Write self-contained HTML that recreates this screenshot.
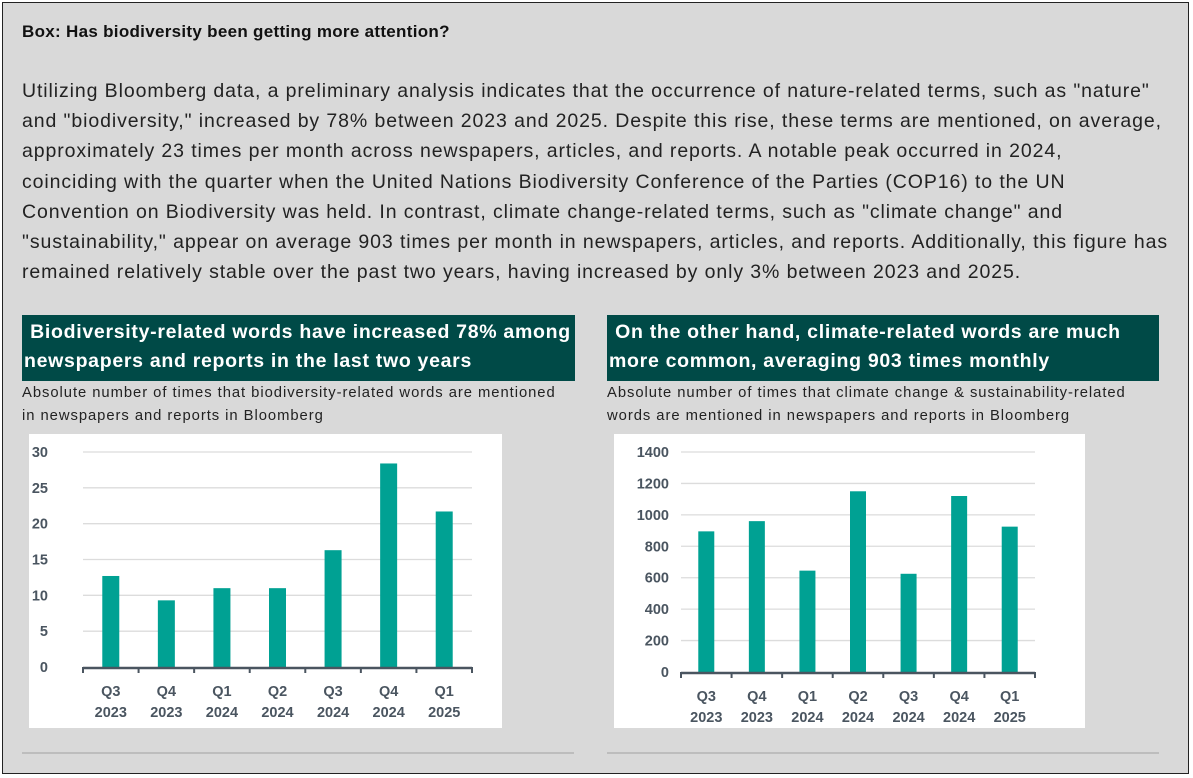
<!DOCTYPE html>
<html><head><meta charset="utf-8"><style>
body{margin:0;width:1193px;height:778px;background:#fff;font-family:"Liberation Sans",sans-serif;overflow:hidden}
#frame{position:absolute;left:2px;top:2px;width:1185px;height:770px;border:1px solid #222;background:#d9d9d9}
.abs{position:absolute;white-space:nowrap}
h1{position:absolute;left:19px;top:19px;margin:0;font-size:17px;font-weight:bold;color:#111;letter-spacing:0.3px}
#para{left:19px;top:73px;font-size:19.5px;line-height:30.2px;color:#222;letter-spacing:0.9px}
.tbox{background:#004a47;color:#fff;font-weight:bold;font-size:19.5px;line-height:29px;padding:3px 2px;box-sizing:border-box;height:66px;top:312px;letter-spacing:0.7px}
.sub{font-size:14.8px;line-height:23px;color:#222;top:379px;letter-spacing:0.95px}
.hr{height:2px;background:#bdbdbd;top:749px}
svg{position:absolute;top:434px;background:#fff}
</style></head><body>
<div id="frame">
<h1>Box: Has biodiversity been getting more attention?</h1>
<div id="para" class="abs">Utilizing Bloomberg data, a preliminary analysis indicates that the occurrence of nature-related terms, such as "nature"<br>and "biodiversity," increased by 78% between 2023 and 2025. Despite this rise, these terms are mentioned, on average,<br>approximately 23 times per month across newspapers, articles, and reports. A notable peak occurred in 2024,<br>coinciding with the quarter when the United Nations Biodiversity Conference of the Parties (COP16) to the UN<br>Convention on Biodiversity was held. In contrast, climate change-related terms, such as "climate change" and<br>"sustainability," appear on average 903 times per month in newspapers, articles, and reports. Additionally, this figure has<br>remained relatively stable over the past two years, having increased by only 3% between 2023 and 2025.</div>
<div class="abs tbox" style="left:19px;width:553px">&nbsp;Biodiversity-related words have increased 78% among<br>newspapers and reports in the last two years</div>
<div class="abs tbox" style="left:604px;width:552px">&nbsp;On the other hand, climate-related words are much<br>more common, averaging 903 times monthly</div>
<div class="abs sub" style="left:19px">Absolute number of times that biodiversity-related words are mentioned<br>in newspapers and reports in Bloomberg</div>
<div class="abs sub" style="left:604px">Absolute number of times that climate change &amp; sustainability-related<br>words are mentioned in newspapers and reports in Bloomberg</div>
<div class="abs hr" style="left:19px;width:552px"></div>
<div class="abs hr" style="left:604px;width:552px"></div>
</div>
<svg id="c1" style="left:29px" width="473" height="294"></svg>
<svg id="c2" style="left:614px" width="471" height="294"></svg>
<script>
const categoriesQ=["Q3","Q4","Q1","Q2","Q3","Q4","Q1"];
const categoriesY=["2023","2023","2024","2024","2024","2024","2025"];
const bioValues=[12.7,9.3,11,11,16.3,28.4,21.7];
const bioTicks=[0,5,10,15,20,25,30];
const climateValues=[895,960,645,1150,625,1120,925];
const climateTicks=[0,200,400,600,800,1000,1200,1400];
const NS="http://www.w3.org/2000/svg";
function mk(svg,tag,a){const e=document.createElementNS(NS,tag);for(const k in a)e.setAttribute(k,a[k]);svg.appendChild(e);return e;}
function draw(id,vals,ticks,x0,x1,yTop,yBot,bw,tickX){
 const svg=document.getElementById(id);
 const max=ticks[ticks.length-1];
 const y=v=>yBot-(v/max)*(yBot-yTop);
 const step=(x1-x0)/vals.length;
 ticks.forEach(t=>{
  if(t>0){const l=mk(svg,'line',{x1:x0,x2:x1,y1:y(t),y2:y(t),stroke:'#dcdcdc','stroke-width':1.3});
  
  }
  const tx=mk(svg,'text',{x:tickX,y:y(t)+5,'text-anchor':'end','font-size':14.5,'font-weight':'bold',fill:'#4a5560'});
  tx.textContent=t;
  
  
 });
 vals.forEach((v,i)=>{
  const cx=x0+step*(i+0.5);
  const r=mk(svg,'rect',{x:cx-bw/2,y:y(v),width:bw,height:yBot-y(v),fill:'#00a193'});
  
  
  const t1=mk(svg,'text',{x:cx,y:yBot+29,'text-anchor':'middle','font-size':14.5,'font-weight':'bold',fill:'#4a5560'});
  t1.textContent=categoriesQ[i];
  
  
  const t2=mk(svg,'text',{x:cx,y:yBot+50,'text-anchor':'middle','font-size':14.5,'font-weight':'bold',fill:'#4a5560'});
  t2.textContent=categoriesY[i];
  
  
 });
 for(let i=0;i<=vals.length;i++){const x=x0+step*i;mk(svg,'line',{x1:x,x2:x,y1:yBot,y2:yBot+6,stroke:'#4a5560','stroke-width':2});}
 const ax=mk(svg,'line',{x1:x0,x2:x1,y1:yBot+1,y2:yBot+1,stroke:'#4a5560','stroke-width':2.5});
 
 
}
draw('c1',bioValues,bioTicks,54,443,18,233,17,19);
draw('c2',climateValues,climateTicks,67,421,18,238,16,55);
</script>
</body></html>
